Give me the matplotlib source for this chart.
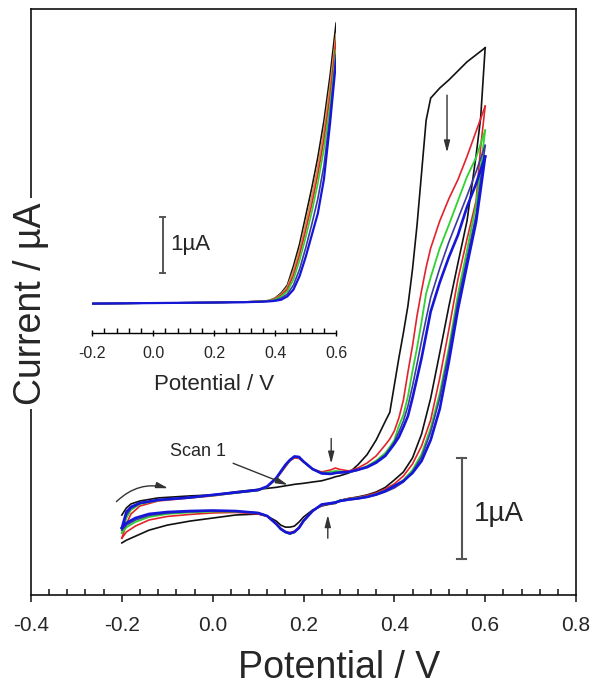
import matplotlib
matplotlib.use("Agg")
import matplotlib.pyplot as plt
from matplotlib.ticker import MultipleLocator, FixedLocator

plt.rcParams['font.family'] = ['Liberation Sans', 'DejaVu Sans']
plt.rcParams['axes.unicode_minus'] = False

# ---------------- main cyclic voltammograms ----------------
# potential grid of the anodic (forward) and cathodic (reverse) sweeps, V
E_fwd = [-0.2, -0.19, -0.18, -0.16, -0.12, -0.05, 0.0, 0.05, 0.1, 0.12, 0.14,
         0.16, 0.17, 0.18, 0.19, 0.2, 0.22, 0.24, 0.26, 0.27, 0.28, 0.3, 0.32,
         0.34, 0.36, 0.38, 0.39, 0.4, 0.41, 0.42, 0.43, 0.44, 0.45, 0.46, 0.47,
         0.48, 0.5, 0.52, 0.54, 0.56, 0.58, 0.6]
E_rev = [0.6, 0.59, 0.58, 0.56, 0.54, 0.52, 0.5, 0.48, 0.46, 0.44, 0.42, 0.4,
         0.38, 0.36, 0.34, 0.32, 0.3, 0.28, 0.27, 0.26, 0.24, 0.22, 0.2, 0.19,
         0.18, 0.17, 0.16, 0.15, 0.14, 0.12, 0.1, 0.05, 0.0, -0.05, -0.1, -0.14,
         -0.17, -0.19, -0.2]

# currents, uA (arbitrary offset)
scan1_fwd = [-0.10, -0.03, 0.01, 0.04, 0.07, 0.09, 0.10, 0.13, 0.155, 0.165, 0.175,
             0.19, 0.197, 0.205, 0.21, 0.215, 0.228, 0.24, 0.265, 0.28, 0.29, 0.318, 0.40,
             0.50, 0.645, 0.83, 0.92, 1.19, 1.46, 1.71, 1.98, 2.34, 2.78, 3.30, 3.82,
             4.04, 4.14, 4.22, 4.31, 4.40, 4.47, 4.54]
scan1_rev = [4.54, 3.84, 3.47, 2.82, 2.40, 1.97, 1.51, 1.06, 0.705, 0.467, 0.328, 0.248,
             0.174, 0.129, 0.10, 0.08, 0.065, 0.045, 0.015, 0.01, -0.01, -0.05, -0.12, -0.17,
             -0.21, -0.22, -0.22, -0.20, -0.16, -0.11, -0.09, -0.10, -0.13, -0.16, -0.20, -0.25,
             -0.31, -0.35, -0.377]

scan2_fwd = [-0.33, -0.19, -0.09, -0.01, 0.04, 0.07, 0.09, 0.119, 0.144, 0.179, 0.258,
             0.377, 0.437, 0.467, 0.462, 0.427, 0.357, 0.328, 0.348, 0.367, 0.353, 0.338, 0.367,
             0.417, 0.487, 0.596, 0.655, 0.735, 0.864, 1.043, 1.32, 1.58, 1.88, 2.13, 2.36,
             2.55, 2.82, 3.04, 3.23, 3.46, 3.71, 3.96]
scan2_rev = [3.96, 3.55, 3.02, 2.64, 2.24, 1.74, 1.26, 0.844, 0.586, 0.407, 0.288, 0.209,
             0.159, 0.119, 0.095, 0.075, 0.065, 0.045, 0.02, 0.015, -0.005, -0.06, -0.154, -0.22,
             -0.26, -0.273, -0.263, -0.233, -0.184, -0.114, -0.089, -0.074, -0.079, -0.094, -0.114, -0.149,
             -0.209, -0.268, -0.33]

scan3_fwd = [-0.278, -0.13, -0.05, 0.01, 0.045, 0.074, 0.094, 0.119, 0.144, 0.179, 0.263,
             0.387, 0.442, 0.477, 0.472, 0.427, 0.353, 0.318, 0.328, 0.338, 0.333, 0.323, 0.348,
             0.387, 0.44, 0.516, 0.576, 0.645, 0.785, 0.894, 1.08, 1.33, 1.56, 1.82, 2.10,
             2.26, 2.55, 2.78, 3.02, 3.26, 3.45, 3.72]
scan3_rev = [3.72, 3.35, 2.98, 2.53, 2.09, 1.56, 1.11, 0.765, 0.506, 0.348, 0.248, 0.189,
             0.144, 0.109, 0.085, 0.07, 0.06, 0.045, 0.03, 0.02, 0.0, -0.06, -0.159, -0.228,
             -0.273, -0.288, -0.273, -0.243, -0.189, -0.109, -0.079, -0.065, -0.065, -0.074, -0.089, -0.119,
             -0.169, -0.223, -0.278]

scan4_fwd = [-0.248, -0.10, -0.035, 0.015, 0.048, 0.074, 0.097, 0.122, 0.147, 0.182, 0.266,
             0.392, 0.445, 0.48, 0.475, 0.43, 0.355, 0.316, 0.31, 0.315, 0.32, 0.325, 0.345,
             0.38, 0.43, 0.497, 0.556, 0.626, 0.725, 0.834, 0.983, 1.18, 1.40, 1.63, 1.85,
             2.06, 2.35, 2.61, 2.84, 3.07, 3.31, 3.57]
scan4_rev = [3.57, 3.23, 2.88, 2.45, 2.02, 1.51, 1.06, 0.725, 0.477, 0.328, 0.228, 0.169,
             0.129, 0.099, 0.078, 0.062, 0.05, 0.035, 0.02, 0.015, 0.002, -0.06, -0.159, -0.228,
             -0.27, -0.285, -0.27, -0.24, -0.189, -0.109, -0.079, -0.062, -0.06, -0.067, -0.08, -0.104,
             -0.149, -0.20, -0.248]

scan5_fwd = [-0.228, -0.07, -0.02, 0.02, 0.05, 0.074, 0.10, 0.124, 0.149, 0.184, 0.268,
             0.397, 0.447, 0.482, 0.477, 0.432, 0.357, 0.313, 0.308, 0.318, 0.323, 0.328, 0.35,
             0.375, 0.42, 0.487, 0.546, 0.606, 0.675, 0.775, 0.884, 1.063, 1.26, 1.46, 1.69,
             1.92, 2.21, 2.46, 2.68, 2.96, 3.19, 3.46]
scan5_rev = [3.46, 3.13, 2.81, 2.38, 1.94, 1.42, 0.953, 0.645, 0.437, 0.318, 0.238, 0.189,
             0.139, 0.104, 0.08, 0.065, 0.055, 0.04, 0.025, 0.018, 0.005, -0.06, -0.159, -0.228,
             -0.268, -0.283, -0.268, -0.238, -0.189, -0.109, -0.079, -0.06, -0.055, -0.06, -0.07, -0.089,
             -0.129, -0.179, -0.228]

scan_colors = ['#111111', '#e3232b', '#2fd22f', '#3b3b9e', '#1616d8']
scan_widths = [1.2, 1.2, 1.3, 1.2, 1.9]

# ---------------- inset: linear sweeps ----------------
E_inset = [-0.2, 0.0, 0.2, 0.3, 0.36, 0.38, 0.4, 0.42, 0.44, 0.46, 0.48, 0.5,
           0.52, 0.54, 0.56, 0.58, 0.6]
inset_black = [-0.01, 0.0, 0.01, 0.02, 0.035, 0.045, 0.09, 0.18, 0.32, 0.66, 1.05, 1.55,
               2.05, 2.6, 3.25, 4.05, 5.0]
inset_orange = [-0.01, 0.0, 0.01, 0.02, 0.035, 0.045, 0.085, 0.16, 0.29, 0.58, 0.95, 1.42,
                1.9, 2.45, 3.08, 3.88, 4.8]
inset_red = [-0.01, 0.0, 0.01, 0.02, 0.03, 0.04, 0.075, 0.14, 0.25, 0.5, 0.86, 1.3,
             1.76, 2.3, 2.92, 3.7, 4.67]
inset_green = [-0.01, 0.0, 0.01, 0.02, 0.03, 0.04, 0.065, 0.12, 0.21, 0.42, 0.76, 1.17,
               1.62, 2.14, 2.75, 3.52, 4.52]
inset_navy = [-0.01, 0.0, 0.01, 0.015, 0.025, 0.035, 0.05, 0.09, 0.16, 0.32, 0.6, 0.98,
              1.4, 1.86, 2.45, 3.35, 4.43]
inset_blue = [-0.01, 0.0, 0.01, 0.015, 0.025, 0.03, 0.04, 0.06, 0.12, 0.24, 0.48, 0.82,
              1.21, 1.6, 2.21, 3.2, 4.34]
inset_colors = ['#111111', '#c8964a', '#e3232b', '#2fd22f', '#3b3b9e', '#1616d8']

text_col = '#262626'

fig = plt.figure(figsize=(5.93, 6.90), dpi=100)
ax = fig.add_axes([31 / 593, 1 - 595 / 690, 545 / 593, 586 / 690])

scans = [(scan1_fwd, scan1_rev), (scan2_fwd, scan2_rev), (scan3_fwd, scan3_rev),
         (scan4_fwd, scan4_rev), (scan5_fwd, scan5_rev)]
for (fwd, rev), c, w in zip(scans, scan_colors, scan_widths):
    ax.plot(E_fwd, fwd, color=c, lw=w, solid_joinstyle='round')
    ax.plot(E_rev, rev, color=c, lw=w, solid_joinstyle='round')

ax.set_xlim(-0.4, 0.8)
ax.set_ylim(-0.894, 4.925)
ax.xaxis.set_major_locator(FixedLocator([-0.4, -0.2, 0.0, 0.2, 0.4, 0.6, 0.8]))
ax.xaxis.set_minor_locator(MultipleLocator(0.04))
ax.set_xticklabels(['-0.4', '-0.2', '0.0', '0.2', '0.4', '0.6', '0.8'])
ax.tick_params(axis='x', which='major', direction='out', length=5, width=1.1,
               labelsize=15, pad=10, colors='#111111', labelcolor=text_col)
ax.tick_params(axis='x', which='minor', direction='in', length=4, width=1.1, colors='#111111')
ax.set_yticks([])
for s in ax.spines.values():
    s.set_linewidth(1.2)
    s.set_color('#111111')

fig.text(339 / 593, 1 - 668 / 690, 'Potential / V', fontsize=27, color=text_col,
         ha='center', va='center')
ax.text(-0.4, 2.0, 'Current / \u00b5A', fontsize=27, color=text_col, rotation=90,
        ha='center', va='center', zorder=20, clip_on=False,
        bbox=dict(facecolor='white', edgecolor='none', pad=3))

arrow_kw = dict(arrowstyle='-|>,head_length=0.7,head_width=0.18', color='#333333',
                lw=1.0, shrinkA=0, shrinkB=0)
# sweep direction
ax.annotate('', xy=(-0.098, 0.166), xytext=(-0.212, 0.033),
            arrowprops=dict(arrow_kw, connectionstyle='arc3,rad=-0.28'))
# first scan label and pointer
ax.text(-0.033, 0.526, 'Scan 1', fontsize=13, color=text_col, ha='center', va='center')
ax.annotate('', xy=(0.1655, 0.199), xytext=(0.045, 0.414), arrowprops=arrow_kw)
# current decay with cycling
ax.annotate('', xy=(0.516, 3.50), xytext=(0.516, 4.07), arrowprops=arrow_kw)
# small feature near 0.27 V
ax.annotate('', xy=(0.261, 0.41), xytext=(0.261, 0.66), arrowprops=arrow_kw)
ax.annotate('', xy=(0.2535, -0.10), xytext=(0.2535, -0.33), arrowprops=arrow_kw)

# 1 uA scale bar
bar_col = '#555555'
ax.plot([0.548, 0.548], [-0.536, 0.464], color=bar_col, lw=1.5)
ax.plot([0.538, 0.558], [0.464, 0.464], color=bar_col, lw=1.5)
ax.plot([0.538, 0.558], [-0.536, -0.536], color=bar_col, lw=1.5)
ax.text(0.576, -0.09, '1\u00b5A', fontsize=20, color=text_col, ha='left', va='center')

# ---------------- inset axes ----------------
ins = fig.add_axes([92.3 / 593, 1 - 333.3 / 690, 243.8 / 593, 321.4 / 690])
ins.patch.set_alpha(0)
inset_sets = [inset_black, inset_orange, inset_red, inset_green, inset_navy, inset_blue]
for vals, c in zip(inset_sets, inset_colors):
    ins.plot(E_inset, vals, color=c, lw=1.2 if c != '#1616d8' else 1.6)
ins.set_xlim(-0.2, 0.6)
ins.set_ylim(-0.54, 5.2)
for side in ['top', 'right', 'left']:
    ins.spines[side].set_visible(False)
ins.spines['bottom'].set_linewidth(1.0)
ins.set_yticks([])
ins.xaxis.set_major_locator(FixedLocator([-0.2, 0.0, 0.2, 0.4, 0.6]))
ins.xaxis.set_minor_locator(MultipleLocator(0.04))
ins.set_xticklabels(['-0.2', '0.0', '0.2', '0.4', '0.6'])
ins.tick_params(axis='x', which='major', direction='inout', length=5, width=1.0,
                labelsize=11.5, pad=7, labelcolor=text_col)
ins.tick_params(axis='x', which='minor', direction='in', length=3.5, width=1.0)
ins.set_xlabel('Potential / V', fontsize=16, color=text_col, labelpad=9)

ins.plot([0.031, 0.031], [0.54, 1.54], color=bar_col, lw=1.4)
ins.plot([0.023, 0.039], [1.54, 1.54], color=bar_col, lw=1.4)
ins.plot([0.023, 0.039], [0.54, 0.54], color=bar_col, lw=1.4)
ins.text(0.057, 1.04, '1\u00b5A', fontsize=16, color=text_col, ha='left', va='center')

fig.savefig('out.png', dpi=100, facecolor='white')
